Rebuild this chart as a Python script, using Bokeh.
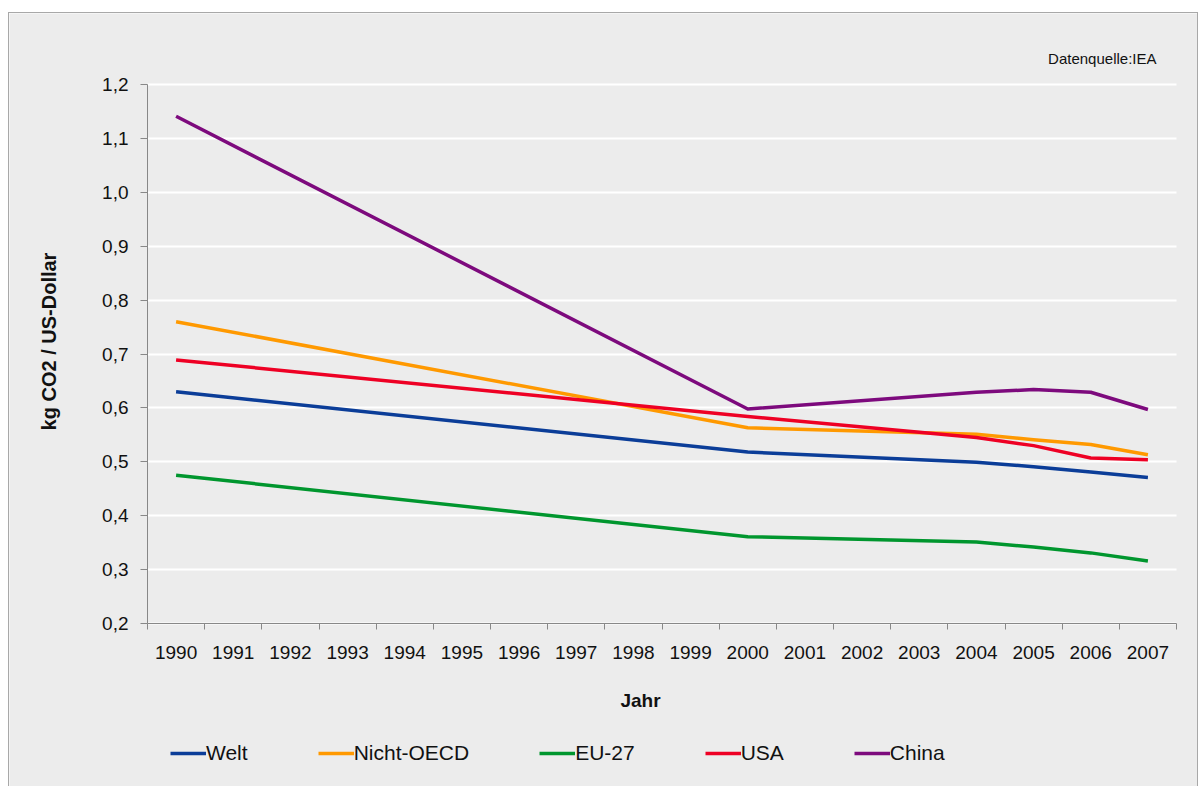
import math
from bokeh.plotting import figure
from bokeh.models import (Range1d, FixedTicker, CustomJSTickFormatter, Legend, LegendItem,
                          Label, ColumnDataSource)
from bokeh.embed import file_html
from bokeh.resources import INLINE

# ---- data ----
years = [str(y) for y in range(1990, 2008)]
data_years = ["1990", "2000", "2004", "2005", "2006", "2007"]
welt = [0.630, 0.518, 0.499, 0.491, 0.481, 0.471]
nicht_oecd = [0.760, 0.563, 0.551, 0.541, 0.532, 0.513]
eu27 = [0.475, 0.361, 0.351, 0.342, 0.331, 0.316]
usa = [0.689, 0.584, 0.545, 0.530, 0.507, 0.504]
china = [1.141, 0.598, 0.629, 0.634, 0.629, 0.597]
y_ticks = [0.2, 0.3, 0.4, 0.5, 0.6, 0.7, 0.8, 0.9, 1.0, 1.1, 1.2]

series = [
    ("Welt", welt, "#0b3d98"),
    ("Nicht-OECD", nicht_oecd, "#ff9900"),
    ("EU-27", eu27, "#00962e"),
    ("USA", usa, "#ee0024"),
    ("China", china, "#7d0a7d"),
]

FONT = "Liberation Sans"
BG = "#ececec"
TXT = "#111111"
AX = "#888888"

# ---- layout (pixels) ----
AREA_W, AREA_H = 1029, 539      # value area
PAD_L, PAD_R = 138, 21          # room left / right of value area inside the frame
PAD_T = 71                      # room above value area (source note)
PAD_B = 163                     # room below value area (axis labels, legend)
ncat = len(years)
span = y_ticks[-1] - y_ticks[0]
px_x = ncat / AREA_W            # data units per pixel
px_y = span / AREA_H

p = figure(frame_width=PAD_L + AREA_W + PAD_R, frame_height=PAD_T + AREA_H + PAD_B,
           output_backend="svg", toolbar_location=None,
           x_range=Range1d(-PAD_L * px_x, ncat + PAD_R * px_x),
           y_range=Range1d(y_ticks[0] - PAD_B * px_y, y_ticks[-1] + PAD_T * px_y),
           min_border_left=0, min_border_right=0, min_border_top=0, min_border_bottom=0,
           background_fill_color=BG, border_fill_color=BG, outline_line_color=None,
           styles={"border": "1px solid #a8a8a8", "border-bottom": "none",
                   "margin-left": "8px", "margin-top": "12px"})

xpos = [years.index(y) + 0.5 for y in data_years]
items = []
for name, vals, col in series:
    src = ColumnDataSource(dict(x=xpos, y=vals))
    r = p.line("x", "y", source=src, line_color=col, line_width=3.5, line_join="round")
    items.append(LegendItem(label=name, renderers=[r]))

# x axis: labels at category centers, ticks at boundaries, fixed at the 0,2 line
xa = p.xaxis[0]
xa.fixed_location = y_ticks[0]
xa.bounds = (0, ncat)
xa.ticker = FixedTicker(ticks=[i + 0.5 for i in range(ncat)],
                        minor_ticks=list(range(ncat + 1)))
xa.formatter = CustomJSTickFormatter(args=dict(years=years),
                                     code="return years[Math.floor(tick)];")
xa.major_tick_out = 0
xa.major_tick_in = 0
xa.minor_tick_out = 6
xa.minor_tick_in = 0
xa.minor_tick_line_color = AX
xa.axis_line_color = AX
xa.major_label_text_font = FONT
xa.major_label_text_font_size = "19px"
xa.major_label_text_color = TXT
xa.major_label_standoff = 16

ya = p.yaxis[0]
ya.fixed_location = 0
ya.bounds = (y_ticks[0], y_ticks[-1])
ya.ticker = FixedTicker(ticks=y_ticks, minor_ticks=[])
ya.formatter = CustomJSTickFormatter(code="return tick.toFixed(1).replace('.', ',');")
ya.major_tick_out = 7
ya.major_tick_in = 0
ya.major_tick_line_color = AX
ya.minor_tick_line_color = None
ya.axis_line_color = AX
ya.major_label_text_font = FONT
ya.major_label_text_font_size = "19px"
ya.major_label_text_color = TXT
ya.major_label_standoff = 12

# axis titles and source note
p.add_layout(Label(x=(640 - 147) * px_x, y=y_ticks[0] - 77 * px_y, text="Jahr",
                   text_align="center", text_baseline="middle", text_font=FONT,
                   text_font_size="19px", text_font_style="bold", text_color=TXT))
p.add_layout(Label(x=(48 - 147) * px_x, y=y_ticks[0] + (623 - 341) * px_y,
                   text="kg CO2 / US-Dollar", angle=math.pi / 2,
                   text_align="center", text_baseline="middle", text_font=FONT,
                   text_font_size="20px", text_font_style="bold", text_color=TXT))
p.add_layout(Label(x=(1156 - 147) * px_x, y=y_ticks[-1] + (84 - 58) * px_y,
                   text="Datenquelle:IEA", text_align="right", text_baseline="middle",
                   text_font=FONT, text_font_size="15px", text_color=TXT))

# horizontal grid limited to the value area
p.xgrid.grid_line_color = None
yg = p.ygrid[0]
yg.ticker = FixedTicker(ticks=y_ticks)
if "cross_bounds" in yg.properties():
    yg.grid_line_color = "white"
    yg.grid_line_width = 2
    yg.cross_bounds = (0, ncat)
else:
    yg.grid_line_color = None
    p.segment(x0=0, x1=ncat, y0=y_ticks, y1=y_ticks, line_color="white", line_width=2,
              level="underlay")

legend = Legend(items=items, orientation="horizontal", location=(161, 21),
                padding=0, margin=0, spacing=70, glyph_width=36, glyph_height=20,
                label_standoff=0, label_text_font=FONT, label_text_font_size="21px",
                label_text_color=TXT, background_fill_alpha=0, border_line_alpha=0,
                label_height=20)
p.add_layout(legend, "center")

open("out.html", "w").write(file_html(p, INLINE))
